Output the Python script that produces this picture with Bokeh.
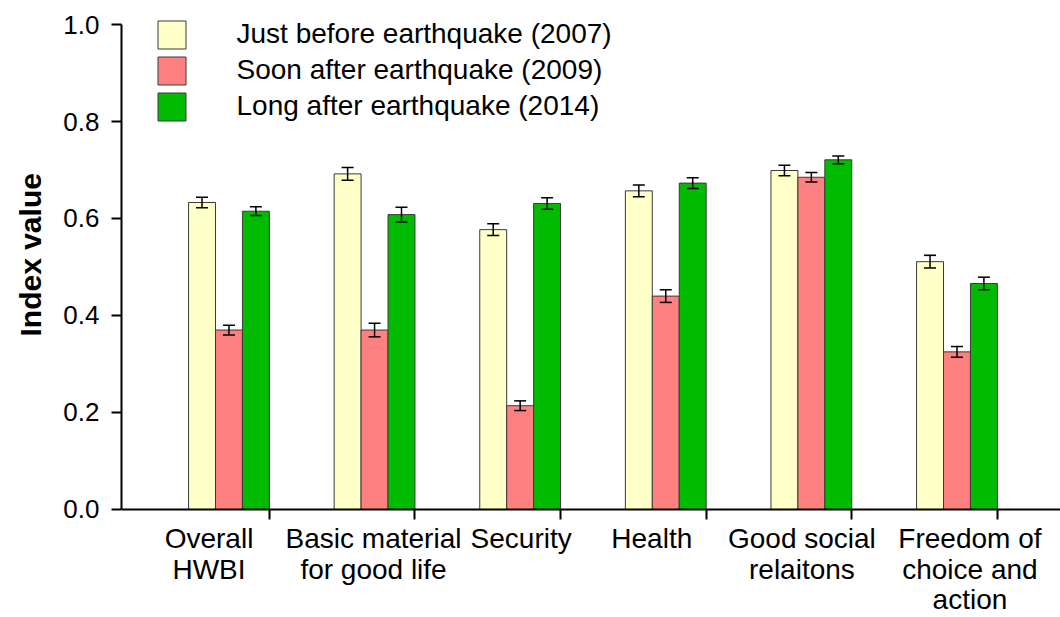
from bokeh.plotting import figure
from bokeh.models import (ColumnDataSource, Range1d, FixedTicker, Whisker, TeeHead,
                          Legend, LegendItem, NumeralTickFormatter, Title)
from bokeh.embed import file_html
from bokeh.resources import INLINE

# ---------------- data ----------------
categories = ["Overall\nHWBI", "Basic material\nfor good life", "Security", "Health",
              "Good social\nrelaitons", "Freedom of\nchoice and\naction"]
series_names = ["Just before earthquake (2007)", "Soon after earthquake (2009)",
                "Long after earthquake (2014)"]
before_2007 = [0.633, 0.692, 0.577, 0.657, 0.699, 0.511]
soon_2009 = [0.370, 0.370, 0.214, 0.440, 0.685, 0.325]
long_2014 = [0.615, 0.608, 0.631, 0.673, 0.721, 0.466]
err_2007 = [0.011, 0.013, 0.012, 0.012, 0.011, 0.013]
err_2009 = [0.010, 0.014, 0.010, 0.013, 0.010, 0.011]
err_2014 = [0.009, 0.015, 0.012, 0.011, 0.008, 0.013]
y_ticks = [0.0, 0.2, 0.4, 0.6, 0.8, 1.0]
y_title = "Index value"

# ---------------- style / layout ----------------
colors = ["#FFFFC8", "#FF8080", "#00BB00"]
FONT = "Liberation Sans"
BW = 0.185                       # bar width in group units
LABEL_SHIFT = [-0.137, -0.007, 0.007, -0.096, -0.065, 0.089]   # label nudges (group units)

p = figure(width=1060, height=617,
           x_range=Range1d(-0.738, 5.711), y_range=Range1d(-0.2227, 1.0165),
           output_backend="svg", toolbar_location=None,
           min_border_left=121, min_border_right=0,
           min_border_top=16, min_border_bottom=0)

groups = list(range(len(categories)))
series = [before_2007, soon_2009, long_2014]
errors = [err_2007, err_2009, err_2014]

items = []
for k, (vals, errs, col, name) in enumerate(zip(series, errors, colors, series_names)):
    xs = [g + (k - 1) * BW for g in groups]
    src = ColumnDataSource(dict(x=xs, top=vals,
                                upper=[v + e for v, e in zip(vals, errs)],
                                lower=[v - e for v, e in zip(vals, errs)]))
    r = p.vbar(x="x", top="top", bottom=0, width=BW, source=src,
               fill_color=col, line_color="#3a3a3a", line_width=1)
    w = Whisker(base="x", upper="upper", lower="lower", source=src,
                line_color="black", line_width=1.5, level="overlay",
                upper_head=TeeHead(size=12, line_color="black", line_width=1.5),
                lower_head=TeeHead(size=12, line_color="black", line_width=1.5))
    p.add_layout(w)
    items.append(LegendItem(label=name, renderers=[r]))

legend = Legend(items=items, location=(32.5, 493.5), orientation="vertical",
                glyph_width=35, glyph_height=35, label_standoff=48, spacing=1,
                padding=0, margin=0, border_line_color=None,
                background_fill_alpha=0,
                label_text_font=FONT, label_text_font_size="28px",
                label_text_color="black")
p.add_layout(legend)

# x axis: fixed at y = 0, category labels under the groups,
# tick marks at the right edge of every group
label_pos = [g + s for g, s in zip(groups, LABEL_SHIFT)]
p.xaxis.fixed_location = 0
p.xaxis.ticker = FixedTicker(ticks=label_pos,
                             minor_ticks=[g + 1.5 * BW for g in groups])
p.xaxis.major_label_overrides = {x: c for x, c in zip(label_pos, categories)}
p.xaxis.major_tick_line_color = None
p.xaxis.major_tick_out = 0
p.xaxis.major_tick_in = 0
p.xaxis.minor_tick_out = 10
p.xaxis.minor_tick_in = 0
p.xaxis.minor_tick_line_width = 2
p.xaxis.minor_tick_line_color = "black"
p.xaxis.axis_line_width = 2
p.xaxis.axis_line_color = "black"
p.xaxis.major_label_text_font = FONT
p.xaxis.major_label_text_font_size = "28px"
p.xaxis.major_label_text_color = "black"
p.xaxis.major_label_text_line_height = 0.98
p.xaxis.major_label_standoff = 4

# y axis
p.yaxis.bounds = (0, 1)
p.yaxis.ticker = FixedTicker(ticks=y_ticks)
p.yaxis.formatter = NumeralTickFormatter(format="0.0")
p.yaxis.major_tick_out = 10
p.yaxis.major_tick_in = 0
p.yaxis.major_tick_line_width = 2
p.yaxis.major_tick_line_color = "black"
p.yaxis.minor_tick_line_color = None
p.yaxis.axis_line_width = 2
p.yaxis.axis_line_color = "black"
p.yaxis.major_label_text_font = FONT
p.yaxis.major_label_text_font_size = "26px"
p.yaxis.major_label_text_color = "black"
p.yaxis.major_label_standoff = 12

# y title placed in the left panel, next to the tick labels
p.add_layout(Title(text=y_title, align="left", offset=281, standoff=23,
                   vertical_align="top",
                   text_font=FONT, text_font_size="30px", text_font_style="bold",
                   text_color="black"), "left")

p.xgrid.grid_line_color = None
p.ygrid.grid_line_color = None
p.outline_line_color = None
p.background_fill_color = "white"
p.border_fill_color = "white"

open("out.html", "w").write(file_html(p, INLINE))
